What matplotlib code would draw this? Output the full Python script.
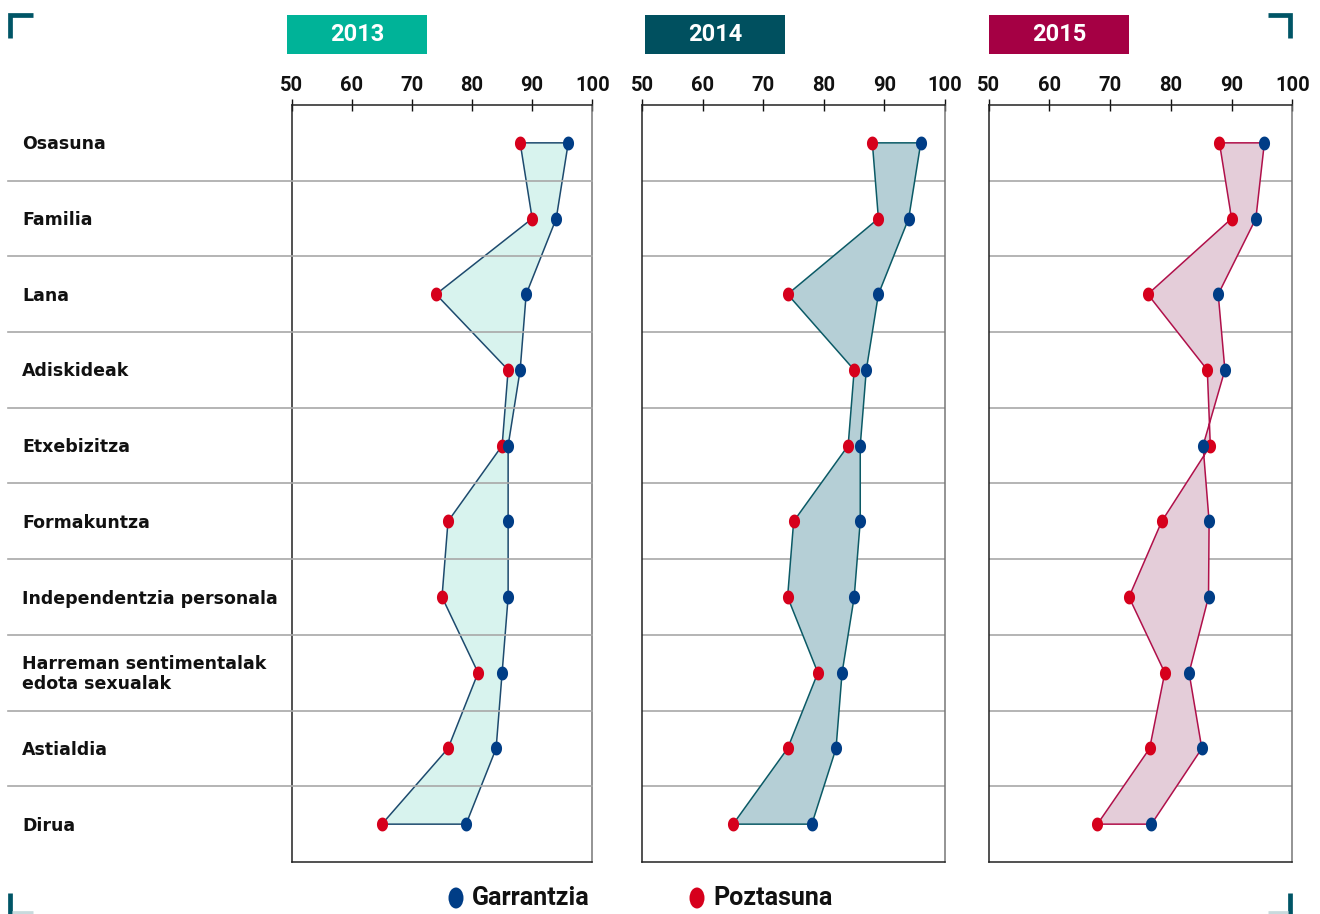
import numpy as np
import matplotlib
matplotlib.use("Agg")
import matplotlib.pyplot as plt
from matplotlib.lines import Line2D
from matplotlib.patches import Rectangle, Ellipse
import matplotlib.transforms as mtransforms

# datuak (irudiaren gainetik irakurrita)
categories = ["Osasuna", "Familia", "Lana", "Adiskideak", "Etxebizitza", "Formakuntza",
              "Independentzia personala", "Harreman sentimentalak\nedota sexualak",
              "Astialdia", "Dirua"]
years = ["2013", "2014", "2015"]

garrantzia_2013 = [96, 94, 89, 88, 86, 86, 86, 85, 84, 79]
poztasuna_2013 = [88, 90, 74, 86, 85, 76, 75, 81, 76, 65]

garrantzia_2014 = [96, 94, 89, 87, 86, 86, 85, 83, 82, 78]
poztasuna_2014 = [88, 89, 74, 85, 84, 75, 74, 79, 74, 65]

garrantzia_2015 = [95.4, 94, 87.8, 88.9, 85.3, 86.3, 86.2, 83, 85.1, 76.8]
poztasuna_2015 = [88, 90, 76.2, 86, 86.5, 78.5, 73.1, 79, 76.5, 67.9]

x_ticks = [50, 60, 70, 80, 90, 100]

garrantzia = [garrantzia_2013, garrantzia_2014, garrantzia_2015]
poztasuna = [poztasuna_2013, poztasuna_2014, poztasuna_2015]

head_colors = ["#00b398", "#00505f", "#a50044"]
fill_colors = ["#d8f3ee", "#b5cfd6", "#e4cdd9"]
edge_colors = ["#1d4a6e", "#0b5a66", "#b0104a"]
blue = "#003d86"
red = "#d6001c"
grid_col = "#a8a8a8"
corner_col = "#005566"

narrow = ["Roboto", "DejaVu Sans"]
plt.rcParams['font.family'] = ["DejaVu Sans"]

W, H = 1320, 914
fig = plt.figure(figsize=(W / 100, H / 100), dpi=100)

def fx(px):
    return px / W

def fy(py):
    return 1 - py / H

# paneleen kokapena pixeletan
panel_x = [(291.7, 592.3), (642.3, 945.0), (988.7, 1292.3)]
head_x = [(287, 427), (645, 785), (989, 1129)]
top_px, bot_px = 105, 862

# elipse itxurako markatzailea
t = np.linspace(0, 2 * np.pi, 40)
ell = np.column_stack([0.8 * np.cos(t), np.sin(t)])

idx = np.arange(len(categories))

for i in range(3):
    x0, x1 = panel_x[i]
    ax = fig.add_axes([fx(x0), fy(bot_px), fx(x1 - x0), (bot_px - top_px) / H])
    ax.set_xlim(50, 100)
    ax.set_ylim(len(categories) - 0.5, -0.5)

    g = garrantzia[i]
    p = poztasuna[i]
    poly_x = list(p) + list(g[::-1])
    poly_y = list(idx) + list(idx[::-1])
    ax.fill(poly_x, poly_y, facecolor=fill_colors[i], edgecolor=edge_colors[i],
            linewidth=1.1, zorder=2)
    ax.plot(p, idx, linestyle="none", marker=ell, markersize=10, color=red,
            markeredgewidth=0, zorder=3)
    ax.plot(g, idx, linestyle="none", marker=ell, markersize=10, color=blue,
            markeredgewidth=0, zorder=3)

    # lerro horizontalak
    if i == 0:
        trans = mtransforms.blended_transform_factory(fig.transFigure, ax.transData)
        for k in range(1, len(categories)):
            fig.add_artist(Line2D([fx(8), fx(x1)], [k - 0.5, k - 0.5], transform=trans,
                                  color=grid_col, linewidth=1.2, zorder=1))
    else:
        for k in range(1, len(categories)):
            ax.axhline(k - 0.5, color=grid_col, linewidth=1.2, zorder=1)

    ax.xaxis.tick_top()
    ax.set_xticks(x_ticks)
    ax.set_xticklabels([str(v) for v in x_ticks], family=narrow, fontweight="bold",
                       fontsize=14.5)
    ax.tick_params(axis="x", direction="inout", length=8, width=1, pad=3, colors="#111111")
    ax.set_yticks([])
    for s in ax.spines.values():
        s.set_linewidth(1.1)
        s.set_color("#222222")
    ax.spines["right"].set_color("#777777")

    # urteko goiburua
    hx0, hx1 = head_x[i]
    fig.add_artist(Rectangle((fx(hx0), fy(54)), fx(hx1 - hx0), (54 - 15) / H,
                             transform=fig.transFigure, facecolor=head_colors[i],
                             edgecolor="none"))
    fig.text(fx((hx0 + hx1) / 2), fy(34.5), years[i], color="white", fontsize=17,
             fontweight="bold", family=narrow, ha="center", va="center")

# kategorien etiketak
ax0 = fig.axes[0]
trans0 = mtransforms.blended_transform_factory(fig.transFigure, ax0.transData)
for k, c in enumerate(categories):
    ax0.text(fx(22), k + 0.02, c, transform=trans0, ha="left", va="center", fontsize=12.5,
             fontweight="bold", color="#111111", linespacing=1.15)

# ertzetako marka
def corner(xs, ys, col=corner_col):
    fig.add_artist(Line2D([fx(v) for v in xs], [fy(v) for v in ys],
                          transform=fig.transFigure, color=col, linewidth=3.4,
                          solid_joinstyle="miter", solid_capstyle="butt"))

corner([10, 10, 33], [38, 14.5, 14.5])
corner([1268, 1290, 1290], [14.5, 14.5, 38])
corner([10, 10], [893, 914])
corner([1290, 1290], [893, 914])
corner([12, 33], [912.5, 912.5], "#c8dadd")
corner([1268, 1288], [912.5, 912.5], "#c8dadd")

# legenda
leg = [("Garrantzia", blue, 456), ("Poztasuna", red, 697)]
for name, col, px in leg:
    fig.add_artist(Ellipse((fx(px), fy(898)), fx(15), 21 / H, transform=fig.transFigure,
                           facecolor=col, edgecolor="none"))
    fig.text(fx(px + 16), fy(898), name, fontsize=18, fontweight="bold", family=narrow,
             ha="left", va="center", color="#111111")

fig.savefig("out.png", dpi=100)
